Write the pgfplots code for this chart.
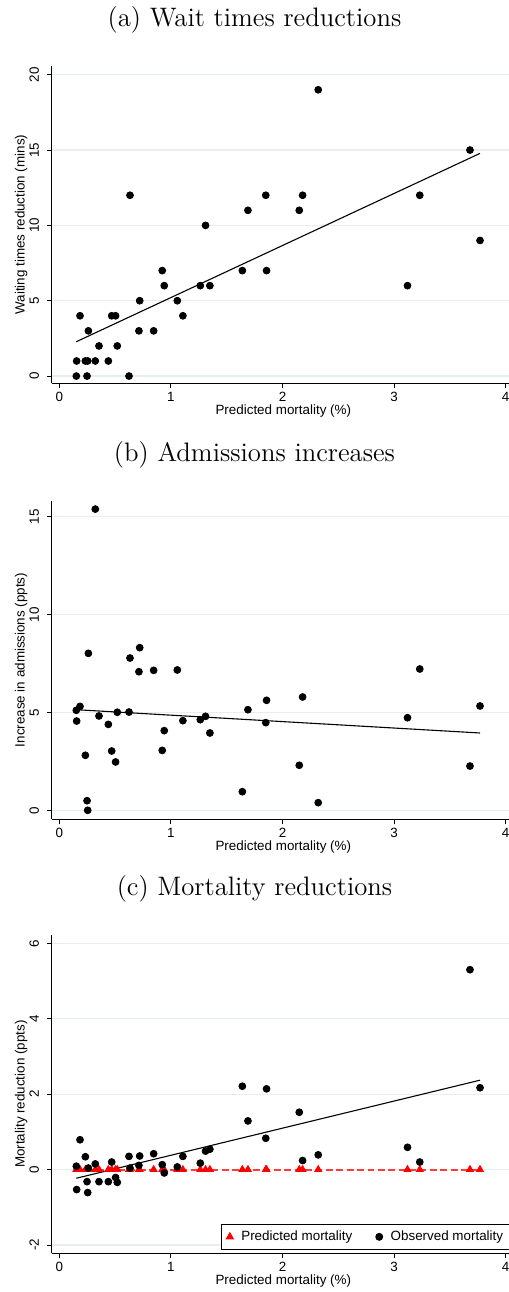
\documentclass[border=0pt]{standalone}
\usepackage{pgfplots}
\pgfplotsset{compat=1.18}
\usepackage{pgfplotstable}
\usepackage{fontspec}
\newfontfamily\arial{Liberation Sans}
\newcommand\labfont{\arial\fontsize{6.7pt}{8pt}\selectfont}
\newcommand\titlefont{\fontsize{13.35pt}{15pt}\selectfont}
\definecolor{gridc}{RGB}{230,238,238}
\definecolor{predred}{RGB}{255,0,0}
\definecolor{dashred}{RGB}{255,60,60}

% predicted mortality (%) and the three outcomes, one row per hospital
\pgfplotstableread{
x      wait  adm    mort   pred
0.152  0     5.11   0.09   0
0.155  1     4.56  -0.53   0
0.185  4     5.31   0.79   0
0.233  1     2.81   0.34   0
0.248  0     0.49  -0.32   0
0.254  1     0.00  -0.61   0
0.260  3     8.02   0.04   0
0.322  1     15.39  0.15   0
0.355  2     4.82  -0.32   0
0.439  1     4.39  -0.32   0
0.469  4     3.03   0.20   0
0.504  4     2.47  -0.21   0
0.519  2     5.01  -0.34   0
0.624  0     5.02   0.35   0
0.633  12    7.78   0.04   0
0.713  3     7.08   0.11   0
0.720  5     8.31   0.36   0
0.845  3     7.15   0.42   0
0.922  7     3.06   0.13   0
0.940  6     4.07  -0.09   0
1.057  5     7.17   0.07   0
1.107  4     4.58   0.35   0
1.263  6     4.63   0.17   0
1.310  10    4.80   0.49   0
1.349  6     3.95   0.54   0
1.640  7     0.95   2.21   0
1.690  11    5.14   1.29   0
1.850  12    4.48   0.83   0
1.857  7     5.62   2.14   0
2.150  11    2.30   1.52   0
2.180  12    5.79   0.24   0
2.320  19    0.39   0.39   0
3.120  6     4.73   0.59   0
3.230  12    7.22   0.20   0
3.680  15    2.26   5.30   0
3.770  9     5.33   2.17   0
}\hosp

\pgfplotsset{
  stata/.style={
    scale only axis, width=231.3pt,
    xmin=-0.066, xmax=4.08,
    axis x line*=bottom, axis y line*=left,
    axis line style={-, line width=0.5pt, black},
    xtick={0,1,2,3,4},
    tick align=outside, major tick length=2.5pt,
    tick style={black, line width=0.5pt},
    ymajorgrids, grid style={gridc, line width=0.6pt},
    /pgf/number format/assume math mode=true,
    tick label style={font=\labfont},
    xticklabel style={anchor=north, inner sep=0pt, yshift=-1.7pt},
    yticklabel style={xshift=-3.85pt, rotate=90, anchor=south, inner sep=0pt},
    xlabel={Predicted mortality (\%)},
    every axis x label/.style={at={(axis description cs:0.5,0)}, yshift=-15.85pt, anchor=base, font=\labfont},
    every axis y label/.style={at={(axis description cs:0,0.5)}, xshift=-13.65pt, rotate=90, anchor=base, font=\labfont},
    dot/.style={only marks, mark=*, mark size=1.72pt, black},
    fit/.style={black, line width=0.55pt, no marks},
  },
}

\begin{document}
\begin{tikzpicture}
\useasboundingbox (0,0) rectangle (254.5pt,646pt);

\node[anchor=base, font=\titlefont] at (127.25pt,632.6pt) {(a) Wait times reductions};
\node[anchor=base, font=\titlefont] at (127.25pt,415.25pt) {(b) Admissions increases};
\node[anchor=base, font=\titlefont] at (127.25pt,198pt) {(c) Mortality reductions};

% (a) waiting times
\begin{axis}[stata, at={(26pt,454.35pt)}, anchor=south west, height=158.65pt,
  ymin=-0.48, ymax=20.58, ytick={0,5,10,15,20},
  ylabel={Waiting times reduction (mins)}]
\addplot[dot] table[x=x, y=wait] {\hosp};
\addplot[fit] coordinates {(0.152,2.28) (3.77,14.78)};
\end{axis}

% (b) admissions
\begin{axis}[stata, at={(26pt,236.35pt)}, anchor=south west, height=159.3pt,
  ymin=-0.46, ymax=15.82, ytick={0,5,10,15},
  ylabel={Increase in admissions (ppts)}]
\addplot[dot] table[x=x, y=adm] {\hosp};
\addplot[fit] coordinates {(0.152,5.14) (3.77,3.95)};
\end{axis}

% (c) mortality
\begin{axis}[stata, at={(26pt,19.35pt)}, anchor=south west, height=159.15pt,
  ymin=-2.22, ymax=6.22, ytick={-2,0,2,4,6},
  ylabel={Mortality reduction (ppts)},
  legend columns=2,
  legend image code/.code={\draw[#1] plot coordinates {(0pt,0pt)};},
  legend style={at={(axis description cs:0.3647,0.0921)}, anchor=north west,
    draw=black, line width=0.5pt, font=\labfont,
    inner xsep=2.6pt, inner ysep=3pt,
    nodes={inner sep=0pt},
    /tikz/every odd column/.append style={column sep=4pt},
    /tikz/every even column/.append style={column sep=11.75pt}},
  legend cell align=left]
\addplot[dashred, line width=1pt, dash pattern=on 3.4pt off 1.8pt, forget plot]
  coordinates {(0.152,0) (3.77,0)};
\addplot[only marks, mark=triangle*, mark size=2pt, predred] table[x=x, y=pred] {\hosp};
\addlegendentry{Predicted mortality}
\addplot[dot] table[x=x, y=mort] {\hosp};
\addlegendentry{Observed mortality\rule{12pt}{0pt}}
\addplot[fit, forget plot] coordinates {(0.152,-0.23) (3.77,2.37)};
\end{axis}
\end{tikzpicture}
\end{document}
